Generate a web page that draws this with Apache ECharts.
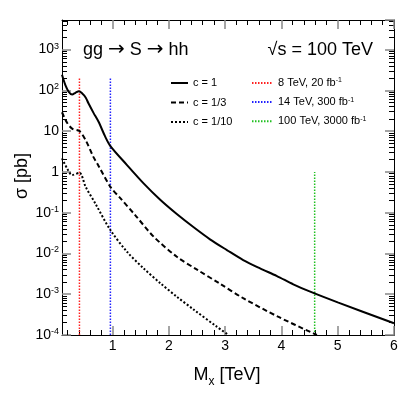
<!DOCTYPE html>
<html><head><meta charset="utf-8">
<script src="https://cdn.jsdelivr.net/npm/echarts@6/dist/echarts.min.js"></script>
<style>html,body{margin:0;padding:0;background:#fff}#c{width:415px;height:395px}</style>
</head><body><div id="c"></div>
<script>
// ---- data ----
const massC1  = [0.1, 0.16, 0.22, 0.28, 0.34, 0.40, 0.46, 0.52, 0.57, 0.66, 0.75, 0.87, 0.96, 1.255, 1.55, 1.85, 2.14, 2.44, 2.73, 3.03, 3.32, 3.62, 3.92, 4.21, 4.50, 5.0, 6.0];
const sigmaC1 = [240, 134, 92, 79, 87, 95, 84, 67, 48, 28, 16.9, 7.2, 4.29, 1.47, 0.522, 0.204, 0.0925, 0.0437, 0.0222, 0.0121, 0.00689, 0.00431, 0.00279, 0.00175, 0.00117, 0.00063, 0.000194];

const massC3  = [0.1, 0.19, 0.28, 0.41, 0.52, 0.66, 0.75, 0.96, 1.14, 1.40, 1.73, 2.14, 2.50, 2.91, 3.32, 3.94, 4.63];
const sigmaC3 = [29, 16, 11.5, 10, 6.0, 2.3, 1.4, 0.43, 0.224, 0.0873, 0.0257, 0.0083, 0.0040, 0.0018, 0.00080, 0.000281, 0.0001];

const massC10  = [0.1, 0.19, 0.28, 0.41, 0.52, 0.69, 0.96, 1.255, 1.55, 1.85, 2.14, 2.44, 2.85, 3.06];
const sigmaC10 = [2.14, 1.22, 0.835, 0.95, 0.43, 0.17, 0.0375, 0.011, 0.0043, 0.00185, 0.00087, 0.00042, 0.00016, 0.0001];

const curveNames = ['c = 1', 'c = 1/3', 'c = 1/10'];

const limitNames  = ['8 TeV, 20 fb-1', '14 TeV, 300 fb-1', '100 TeV, 3000 fb-1'];
const limitMass   = [0.41, 0.96, 4.59];
const limitBottom = [1e-4, 1e-4, 1e-4];
const limitTop    = [200, 200, 1];

const xMin = 0.1, xMax = 6;
const yMin = 1e-4, yMax = 5300;
const xMajorTicks = [1, 2, 3, 4, 5, 6];
const xMinorTicks = [0.2, 0.4, 0.6, 0.8, 1.2, 1.4, 1.6, 1.8, 2.2, 2.4, 2.6, 2.8, 3.2, 3.4, 3.6, 3.8, 4.2, 4.4, 4.6, 4.8, 5.2, 5.4, 5.6, 5.8];
const yDecadeExponents = [-4, -3, -2, -1, 0, 1, 2, 3];
const yMinorMultipliers = [2, 3, 4, 5, 6, 7, 8, 9];

// ---- styles ----
const FONT = '"Liberation Sans", Arial, Helvetica, sans-serif';
const ARROWFONT = '"DejaVu Sans", sans-serif';
const curveDash = ['solid', [5, 3], [2, 2]];
const limitColors = ['#ff2020', '#2020ff', '#20c020'];

const zip = (a, b) => a.map((v, i) => [v, b[i]]);
const yMaxLog = Math.log10(yMax);
const yMinorTicksLog = [];
yDecadeExponents.forEach(e => yMinorMultipliers.forEach(k => {
  const v = e + Math.log10(k);
  if (v < yMaxLog) yMinorTicksLog.push(v);
}));

const chart = echarts.init(document.getElementById('c'), null, {renderer: 'canvas'});

function xAxisDef(pos, major, showLine) {
  return {
    type: 'value', min: xMin, max: xMax, position: pos,
    axisLine: {show: showLine, onZero: false, lineStyle: {color: '#000', width: 1}},
    axisTick: {show: true, inside: true, length: major ? 9 : 5,
      customValues: major ? xMajorTicks : xMinorTicks,
      lineStyle: {color: major ? '#888' : '#000', width: major ? 1.5 : 1}},
    axisLabel: (pos === 'bottom' && major) ? {customValues: xMajorTicks, fontSize: 14, color: '#000', fontFamily: FONT, margin: 4} : {show: false},
    splitLine: {show: false}
  };
}
function yLogAxisDef(pos, labels) {
  return {
    type: 'log', logBase: 10, min: yMin, max: yMax, position: pos, splitNumber: 8,
    axisLine: {show: true, onZero: false, lineStyle: {color: '#000', width: 1}},
    axisTick: {show: true, inside: true, length: 9, lineStyle: {color: '#888', width: 1.5}},
    axisLabel: labels ? {
      show: true, showMaxLabel: false, margin: 3, color: '#000', fontFamily: FONT,
      formatter: v => {
        const e = Math.round(Math.log10(v));
        if (e === 0) return '{b|1}';
        if (e === 1) return '{b|10}';
        return '{b|10}{s|' + e + '}';
      },
      rich: {
        b: {fontSize: 14, fontFamily: FONT, color: '#000', lineHeight: 16},
        s: {fontSize: 9, fontFamily: FONT, color: '#000', verticalAlign: 'top', lineHeight: 10, padding: [0, 0, 6, 0]}
      }
    } : {show: false},
    splitLine: {show: false}
  };
}
function yMinorAxisDef(pos) {
  return {
    type: 'value', min: Math.log10(yMin), max: yMaxLog, position: pos,
    axisLine: {show: false, onZero: false},
    axisTick: {show: true, inside: true, length: 5, customValues: yMinorTicksLog, lineStyle: {color: '#000', width: 1}},
    axisLabel: {show: false}, splitLine: {show: false}
  };
}

const series = [
  {name: curveNames[0], data: zip(massC1, sigmaC1)},
  {name: curveNames[1], data: zip(massC3, sigmaC3)},
  {name: curveNames[2], data: zip(massC10, sigmaC10)}
].map((s, i) => ({
  type: 'line', name: s.name, data: s.data, xAxisIndex: 0, yAxisIndex: 0,
  symbol: 'none', smooth: 0.3, clip: true, z: 3,
  lineStyle: {color: '#000', width: 2, type: curveDash[i]},
  itemStyle: {color: '#000'}
}));
limitNames.forEach((n, i) => {
  series.push({
    type: 'line', name: n, xAxisIndex: 0, yAxisIndex: 0, symbol: 'none', z: 2,
    data: [[limitMass[i], limitBottom[i]], [limitMass[i], limitTop[i]]],
    lineStyle: {color: limitColors[i], width: 1.5, type: [1.5, 1.5]},
    itemStyle: {color: limitColors[i]}
  });
});

const legendBase = {
  orient: 'vertical', top: 77, padding: 0, itemHeight: 14, itemGap: 7.5,
  selectedMode: false, itemStyle: {opacity: 0},
  textStyle: {fontSize: 11, fontFamily: FONT, color: '#000', lineHeight: 12}
};

chart.setOption({
  animation: false,
  backgroundColor: '#fff',
  grid: {left: 62, top: 20, right: 21, bottom: 60, containLabel: false},
  xAxis: [xAxisDef('bottom', true, true), xAxisDef('bottom', false, false), xAxisDef('top', true, true), xAxisDef('top', false, false)],
  yAxis: [yLogAxisDef('left', true), yMinorAxisDef('left'), yLogAxisDef('right', false), yMinorAxisDef('right')],
  legend: [
    Object.assign({}, legendBase, {left: 170, itemWidth: 17, data: curveNames}),
    Object.assign({}, legendBase, {left: 251, itemWidth: 21, data: limitNames,
      formatter: n => '{n|' + n.replace('-1', '') + '}{s|-1}',
      textStyle: {fontSize: 11, fontFamily: FONT, color: '#000',
        rich: {n: {fontSize: 11, fontFamily: FONT, color: '#000', lineHeight: 12},
               s: {fontSize: 7, fontFamily: FONT, color: '#000', verticalAlign: 'top', lineHeight: 8, padding: [0, 0, 4, 0]}}}})
  ],
  graphic: [
    {type: 'text', x: 83, y: 50, style: {text: '{t|gg }{a|→}{t| S }{a|→}{t| hh}', fill: '#000', align: 'left', verticalAlign: 'middle',
      rich: {t: {fontSize: 18, fontFamily: FONT, color: '#000', lineHeight: 22},
             a: {fontSize: 20, fontFamily: ARROWFONT, color: '#000', lineHeight: 22}}}},
    {type: 'text', x: 373, y: 50, style: {text: '√s = 100 TeV', fontSize: 18, fontFamily: FONT, fill: '#000', align: 'right', verticalAlign: 'middle'}},
    {type: 'text', x: 22, y: 176, rotation: Math.PI / 2, style: {text: 'σ [pb]', fontSize: 18, fontFamily: FONT, fill: '#000', align: 'center', verticalAlign: 'middle'}},
    {type: 'text', x: 227, y: 375, style: {text: '{m|M}{x|x}{m| [TeV]}', fontFamily: FONT, fill: '#000', align: 'center', verticalAlign: 'middle',
      rich: {m: {fontSize: 18, fontFamily: FONT, color: '#000', lineHeight: 20},
             x: {fontSize: 12, fontFamily: FONT, color: '#000', verticalAlign: 'bottom', lineHeight: 20, padding: [0, 0, -3, 0]}}}}
  ],
  series: series
});
</script>
</body></html>
